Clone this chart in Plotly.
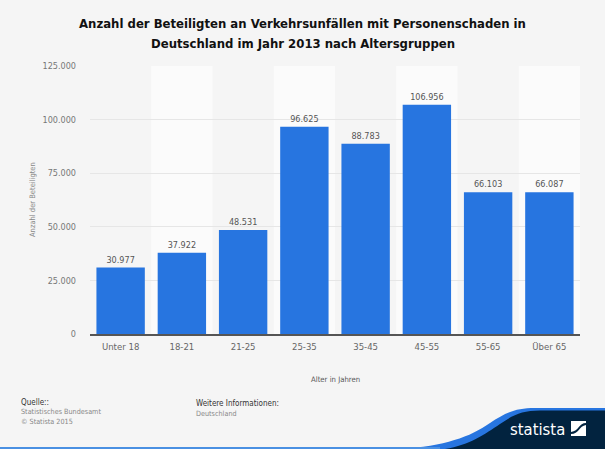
import plotly.graph_objects as go

categories = ["Unter 18", "18-21", "21-25", "25-35", "35-45", "45-55", "55-65", "Über 65"]
values = [30977, 37922, 48531, 96625, 88783, 106956, 66103, 66087]
y_ticks = [0, 25000, 50000, 75000, 100000, 125000]
title_line_1 = "Anzahl der Beteiligten an Verkehrsunfällen mit Personenschaden in"
title_line_2 = "Deutschland im Jahr 2013 nach Altersgruppen"

W, H = 605, 449
L, R, T, B = 90, 580, 66, 334
FONT = "DejaVu Sans Condensed"

def px(x):
    return (x - L) / (R - L)

def py(y):
    return (B - y) / (B - T)

fig = go.Figure(go.Bar(
    x=list(range(len(categories))), y=values,
    marker=dict(color="#2775e0", line=dict(width=0)),
    width=0.79,
    texttemplate="%{y:,d}", textposition="outside", cliponaxis=False,
    textfont=dict(family=FONT, size=9, color="#555555"),
))

shapes = []
for i in range(1, len(categories), 2):
    shapes.append(dict(type="rect", xref="x", yref="paper", x0=i - .5, x1=i + .5, y0=0, y1=1,
                       fillcolor="#fbfbfb", line=dict(width=0), layer="below"))

def P(x, y):
    return f"{px(x):.5f},{py(y):.5f}"

blue = (f"M {P(400,449)} C {P(445,446)} {P(470,437)} {P(490,423)} "
        f"C {P(505,413)} {P(515,408)} {P(535,408)} L {P(605,408)} L {P(605,449)} Z")
navy = (f"M {P(445,449)} C {P(470,445)} {P(485,434)} {P(500,424)} "
        f"C {P(513,415)} {P(522,410.5)} {P(540,410.5)} L {P(605,410.5)} L {P(605,449)} Z")
shapes.append(dict(type="path", xref="paper", yref="paper", path=blue, fillcolor="#2775e0", line=dict(width=0), layer="above"))
shapes.append(dict(type="path", xref="paper", yref="paper", path=navy, fillcolor="#02233f", line=dict(width=0), layer="above"))
shapes.append(dict(type="rect", xref="paper", yref="paper", x0=px(0), x1=px(440), y0=py(449), y1=py(447),
                   fillcolor="#4a90e2", line=dict(width=0), layer="above"))
shapes.append(dict(type="path", xref="paper", yref="paper",
                   path=f"M {P(571,421)} L {P(586,421)} L {P(586,423)} C {P(579,423)} {P(579,431)} {P(571,432)} Z",
                   fillcolor="white", line=dict(width=0), layer="above"))
shapes.append(dict(type="path", xref="paper", yref="paper",
                   path=f"M {P(586,425)} L {P(586,436)} L {P(571,436)} L {P(571,434)} C {P(579,434)} {P(579,426)} {P(586,425)} Z",
                   fillcolor="white", line=dict(width=0), layer="above"))

def note(x, y, text, size, color, anchor="left"):
    return dict(xref="paper", yref="paper", x=px(x), y=py(y), text=text, showarrow=False,
                xanchor=anchor, yanchor="middle", align=anchor,
                font=dict(family=FONT, size=size, color=color))

annotations = [
    note(302.5, 43, title_line_2, 13, "#111111", "center"),
    note(19, 402, "Quelle::", 8, "#333333"),
    note(19, 411, "Statistisches Bundesamt", 7.2, "#888888"),
    note(19, 421, "© Statista 2015", 7.2, "#888888"),
    note(194, 403, "Weitere Informationen:", 8, "#333333"),
    note(194, 413, "Deutschland", 7.2, "#888888"),
    note(335, 379, "Alter in Jahren", 7.7, "#555555", "center"),
    note(508, 429.5, "statista", 16.5, "#ffffff"),
]
annotations[0]["font"]["weight"] = "bold"
annotations.append(dict(xref="paper", yref="paper", x=px(32), y=py(200), text="Anzahl der Beteiligten", textangle=-90,
                        xanchor="center", yanchor="middle",
                        showarrow=False, font=dict(family=FONT, size=7.5, color="#888888")))

fig.update_layout(
    width=W, height=H, autosize=False,
    margin=dict(l=L, r=W - R, t=T, b=H - B, pad=0),
    paper_bgcolor="#f5f5f5", plot_bgcolor="#f5f5f5",
    separators=",.",
    showlegend=False,
    title=dict(text=title_line_1, x=0.5, xanchor="center", xref="container", y=1 - 23/H, yanchor="middle",
               font=dict(family=FONT, size=13, color="#111111", weight="bold")),
    xaxis=dict(tickmode="array", tickvals=list(range(len(categories))), ticktext=categories,
               range=[-0.5, len(categories) - 0.5], showgrid=False, zeroline=False,
               showline=True, linecolor="#555555", linewidth=1.5, ticks="", ticklabelstandoff=3,
               tickfont=dict(family=FONT, size=9.5, color="#666666")),
    yaxis=dict(tickmode="array", tickvals=y_ticks, tickformat=",d", range=[0, 125000],
               showgrid=True, gridcolor="#e6e6e6", gridwidth=1, zeroline=False, showline=False, ticks="",
               ticklen=0, ticklabelstandoff=13, tickfont=dict(family=FONT, size=9, color="#777777")),
    shapes=shapes, annotations=annotations,
)
fig.write_html("out.html", config={"displayModeBar": False},
               post_script="document.body.style.margin='0';document.body.style.background='#f5f5f5';")
